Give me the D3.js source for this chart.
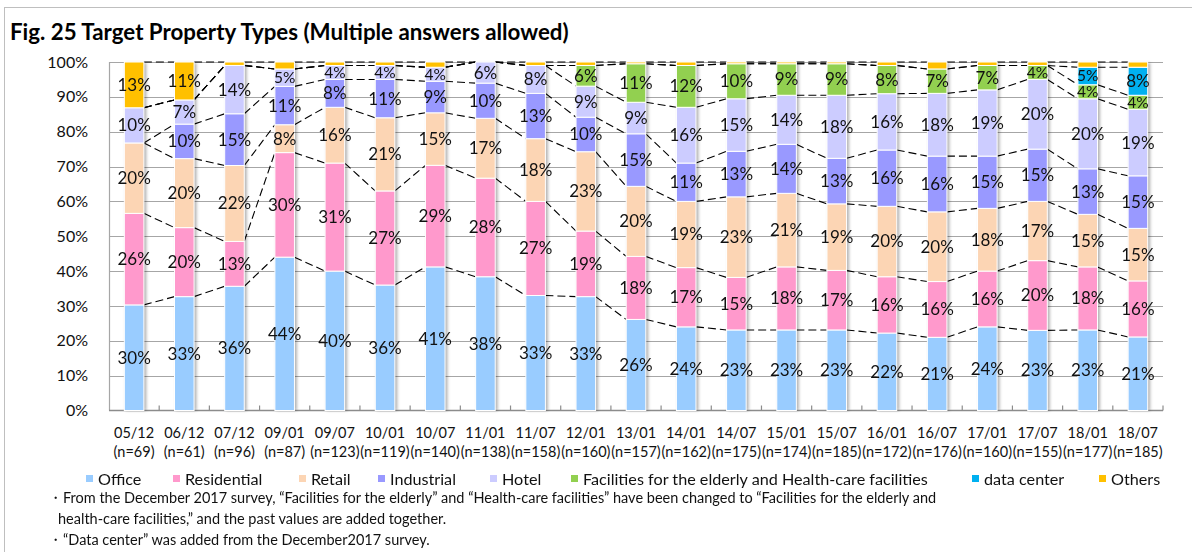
<!DOCTYPE html>
<html>
<head>
<meta charset="utf-8">
<script src="https://cdn.jsdelivr.net/npm/d3@7"></script>
<style>
  body { margin: 0; background: #fff; }
  svg { display: block; font-family: Lato, "Noto Sans", sans-serif; }
</style>
</head>
<body>
<svg id="chart" width="1192" height="552"></svg>
<script>
// survey rounds and sample sizes
const categories = ["05/12","06/12","07/12","09/01","09/07","10/01","10/07","11/01","11/07","12/01","13/01",
                    "14/01","14/07","15/01","15/07","16/01","16/07","17/01","17/07","18/01","18/07"];
const sampleSizes = [69,61,96,87,123,119,140,138,158,160,157,162,175,174,185,172,176,160,155,177,185];

// series values (% of answers)
const office      = [30,33,36,44,40,36,41,38,33,33,26,24,23,23,23,22,21,24,23,23,21];
const residential = [26,20,13,30,31,27,29,28,27,19,18,17,15,18,17,16,16,16,20,18,16];
const retail      = [20,20,22, 8,16,21,15,17,18,23,20,19,23,21,19,20,20,18,17,15,15];
const industrial  = [ 0,10,15,11, 8,11, 9,10,13,10,15,11,13,14,13,16,16,15,15,13,15];
const hotel       = [10, 7,14, 5, 4, 4, 4, 6, 8, 9, 9,16,15,14,18,16,18,19,20,20,19];
const elderly     = [ 0, 0, 0, 0, 0, 0, 0, 0, 0, 6,11,12,10, 9, 9, 8, 7, 7, 4, 4, 4];
const dataCenter  = [ 0, 0, 0, 0, 0, 0, 0, 0, 0, 0, 0, 0, 0, 0, 0, 0, 0, 0, 0, 5, 8];
const others      = [13,11, 1, 2, 1, 1,1.5,0, 1, 1,0.5,1,0.5,0.5,0.5,1, 2, 1, 1,1.5,1.5];

const seriesNames = ["Office","Residential","Retail","Industrial","Hotel",
                     "Facilities for the elderly and Health-care facilities","data center","Others"];
const seriesValues = [office, residential, retail, industrial, hotel, elderly, dataCenter, others];
const seriesColors = ["#99ccff","#ff99cc","#fcd5b4","#9999ff","#ccccff","#92d050","#00b0f0","#ffc000"];
const yTicks = [0,0.1,0.2,0.3,0.4,0.5,0.6,0.7,0.8,0.9,1];

const title = "Fig. 25 Target Property Types (Multiple answers allowed)";
const notes = [
  "・From the December 2017 survey, “Facilities for the elderly” and “Health-care facilities” have been changed to “Facilities for the elderly and",
  "health-care facilities,” and the past values are added together.",
  "・“Data center” was added from the December2017 survey."
];

const plot = { left: 109, right: 1163, top: 62, bottom: 410.5 };

const svg = d3.select("#chart");

// table for d3.stack
const rows = categories.map((c, i) => {
  const r = { cat: c };
  seriesNames.forEach((s, k) => r[s] = seriesValues[k][i]);
  return r;
});
const stacked = d3.stack().keys(seriesNames).offset(d3.stackOffsetExpand)(rows);

const x = d3.scaleBand().domain(categories).range([plot.left, plot.right]).paddingInner(0.61).paddingOuter(0.305);
const y = d3.scaleLinear().domain([0, 1]).range([plot.bottom, plot.top]);
const step = x.step();
const bw = x.bandwidth();

// outer frame
svg.append("rect").attr("x", 4.5).attr("y", 7.5).attr("width", 1200).attr("height", 600)
  .attr("fill", "none").attr("stroke", "#bfbfbf");

// title
svg.append("text").attr("x", 10).attr("y", 40).attr("font-size", 22.3).attr("font-weight", "bold")
  .attr("fill", "#000").text(title);

// shadow filter for bars
const defs = svg.append("defs");
defs.append("filter").attr("id", "shadow").attr("x", "-50%").attr("y", "-10%").attr("width", "200%").attr("height", "120%")
  .append("feGaussianBlur").attr("stdDeviation", 1.6);

// gridlines
svg.append("g").selectAll("line").data(yTicks.slice(1)).join("line")
  .attr("x1", plot.left).attr("x2", plot.right)
  .attr("y1", d => Math.round(y(d)) + 0.5).attr("y2", d => Math.round(y(d)) + 0.5)
  .attr("stroke", "#a6a6a6").attr("stroke-width", 1.2);

// y axis
const yAxis = svg.append("g").attr("transform", `translate(${plot.left - 18},0)`)
  .call(d3.axisLeft(y).tickValues(yTicks).tickFormat(d3.format(".0%")).tickSize(0));
yAxis.select(".domain").remove();
yAxis.selectAll("text").attr("font-size", 16).attr("font-family", "Lato").attr("fill", "#111").attr("dx", 0);

svg.append("line").attr("x1", plot.left + 0.5).attr("x2", plot.left + 0.5)
  .attr("y1", plot.top).attr("y2", plot.bottom).attr("stroke", "#a6a6a6").attr("stroke-width", 1.2);

// x axis baseline and category ticks
svg.append("line").attr("x1", plot.left).attr("x2", plot.right)
  .attr("y1", plot.bottom).attr("y2", plot.bottom).attr("stroke", "#8c8c8c").attr("stroke-width", 1.3);
svg.append("g").selectAll("line").data(d3.range(1, categories.length + 1)).join("line")
  .attr("x1", d => plot.left + d * step).attr("x2", d => plot.left + d * step)
  .attr("y1", plot.bottom - 5).attr("y2", plot.bottom).attr("stroke", "#8c8c8c").attr("stroke-width", 1.2);

// x labels: round on first line, sample size on second
const xLab = svg.append("g").attr("font-size", 14.5).attr("fill", "#111").attr("text-anchor", "middle");
xLab.selectAll("text.round").data(categories).join("text").attr("class", "round")
  .attr("x", d => x(d) + bw / 2).attr("y", plot.bottom + 27).text(d => d);
xLab.selectAll("text.n").data(categories).join("text").attr("class", "n")
  .attr("x", d => x(d) + bw / 2).attr("y", plot.bottom + 46).text((d, i) => `(n=${sampleSizes[i]})`);

// series lines connecting segment tops
const lineG = svg.append("g").attr("fill", "none").attr("stroke", "#000")
  .attr("stroke-width", 1.1).attr("stroke-dasharray", "8,4");
stacked.forEach(s => {
  for (let i = 0; i < s.length - 1; i++) {
    lineG.append("line")
      .attr("x1", x(categories[i]) + bw).attr("y1", y(s[i][1]))
      .attr("x2", x(categories[i + 1])).attr("y2", y(s[i + 1][1]));
  }
});

// bar shadows
svg.append("g").attr("filter", "url(#shadow)").selectAll("rect").data(categories).join("rect")
  .attr("x", d => x(d) + 1.5).attr("y", plot.top + 1).attr("width", bw + 1)
  .attr("height", plot.bottom - plot.top - 1).attr("fill", "#000").attr("opacity", 0.3);

// bars
const barG = svg.append("g").selectAll("g").data(stacked).join("g")
  .attr("fill", (d, i) => seriesColors[i]);
barG.selectAll("rect").data(d => d.map(p => ({ p, key: d.key }))).join("rect")
  .attr("x", d => x(d.p.data.cat)).attr("width", bw)
  .attr("y", d => y(d.p[1])).attr("height", d => Math.max(0, y(d.p[0]) - y(d.p[1])))
  .attr("stroke", "#fff").attr("stroke-width", 1)
  .attr("display", d => d.p[1] - d.p[0] > 0 ? null : "none");

// value labels (slightly smaller in the thin segments)
const labelG = svg.append("g").attr("fill", "#111").attr("text-anchor", "middle");
stacked.forEach(s => {
  s.forEach(p => {
    const v = p.data[s.key];
    if (v < 3) return;
    labelG.append("text")
      .attr("x", x(p.data.cat) + bw / 2)
      .attr("y", (y(p[0]) + y(p[1])) / 2)
      .attr("dy", "0.35em")
      .attr("font-size", v <= 5 ? 15.5 : 17)
      .text(v + "%");
  });
});

// legend
const legendX = [86, 173, 299, 378, 490, 571, 972, 1099];
const legend = svg.append("g").attr("font-size", 16.2).attr("fill", "#111");
seriesNames.forEach((name, i) => {
  legend.append("rect").attr("x", legendX[i]).attr("y", 475).attr("width", 7).attr("height", 7)
    .attr("fill", seriesColors[i]);
  legend.append("text").attr("x", legendX[i] + 12).attr("y", 479).attr("dy", "0.35em").text(name);
});

// notes
svg.append("g").attr("font-size", 14.5).attr("fill", "#111").selectAll("text").data(notes).join("text")
  .attr("x", (d, i) => i === 1 ? 58 : 48).attr("y", (d, i) => [503, 524, 545][i])
  .text(d => d);
</script>
</body>
</html>
